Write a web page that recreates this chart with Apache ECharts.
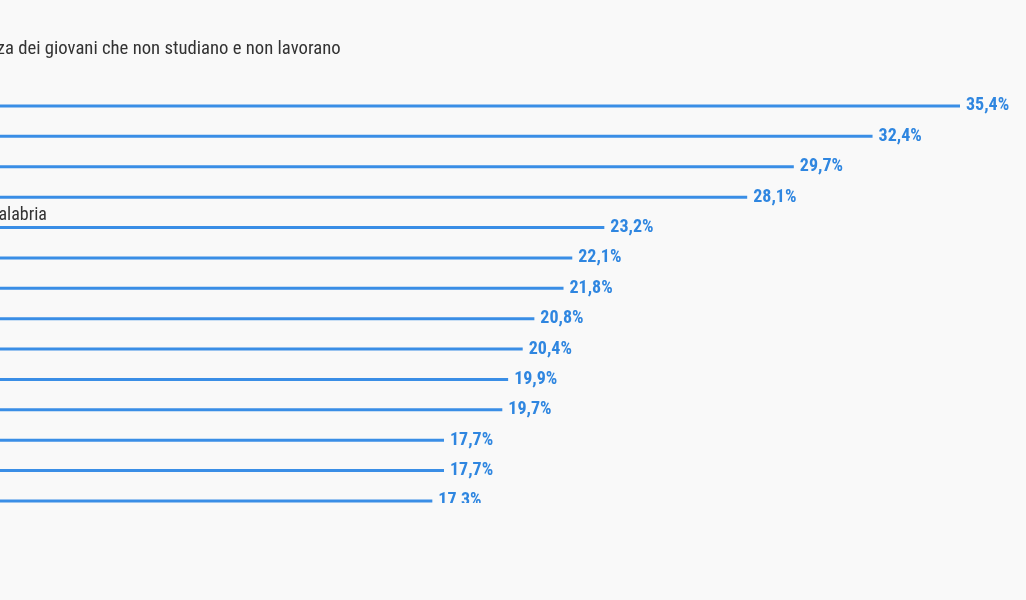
<!DOCTYPE html>
<html>
<head>
<meta charset="utf-8">
<script src="https://cdn.jsdelivr.net/npm/echarts@6/dist/echarts.min.js"></script>
<style>
  html, body { margin: 0; padding: 0; background: #f9f9f9; overflow: hidden; }
  #clip { position: absolute; left: 0; top: 0; width: 1026px; height: 503px; overflow: hidden; }
  #chart { position: absolute; left: -100px; top: 0; width: 1126px; height: 600px; }
</style>
</head>
<body>
<div id="clip"><div id="chart"></div></div>
<script>
const titleText = 'Incidenza dei giovani che non studiano e non lavorano';
const categories = ['Crotone', 'Palermo', 'Catania', 'Napoli', 'Reggio di Calabria', 'Caserta', 'Trapani',
  'Foggia', 'Messina', 'Taranto', 'Cosenza', 'Bari', 'Enna', 'Latina'];
const values = [35.4, 32.4, 29.7, 28.1, 23.2, 22.1, 21.8, 20.8, 20.4, 19.9, 19.7, 17.7, 17.7, 17.3];

const chart = echarts.init(document.getElementById('chart'), null, { renderer: 'canvas' });
const blue = '#3a8ee6';
const cond = 'Roboto Condensed, Roboto';
chart.setOption({
  backgroundColor: '#f9f9f9',
  animation: false,
  title: {
    text: titleText,
    left: 38, top: 35,
    textStyle: { fontFamily: cond, fontSize: 18.7, fontWeight: 'normal', color: '#333333' }
  },
  grid: { left: 28, top: 90.8, width: 1032, height: 425.3 },
  xAxis: { type: 'value', min: 0, max: 35.4, show: false },
  yAxis: { type: 'category', data: categories, inverse: true, show: false },
  series: [
    {
      type: 'bar', data: values, barWidth: 3,
      itemStyle: { color: blue },
      label: {
        show: true, position: 'right', distance: 6,
        formatter: p => p.value.toFixed(1).replace('.', ',') + '%',
        fontFamily: cond, fontWeight: 'bold', fontSize: 18, color: '#2f86e0'
      }
    },
    {
      type: 'bar', data: values, barWidth: 3, barGap: '-100%',
      itemStyle: { color: 'rgba(0,0,0,0)' },
      label: {
        show: true, position: [-10, -20], formatter: '{b}',
        fontFamily: cond, fontSize: 18, color: '#333333'
      }
    }
  ]
});
</script>
</body>
</html>
